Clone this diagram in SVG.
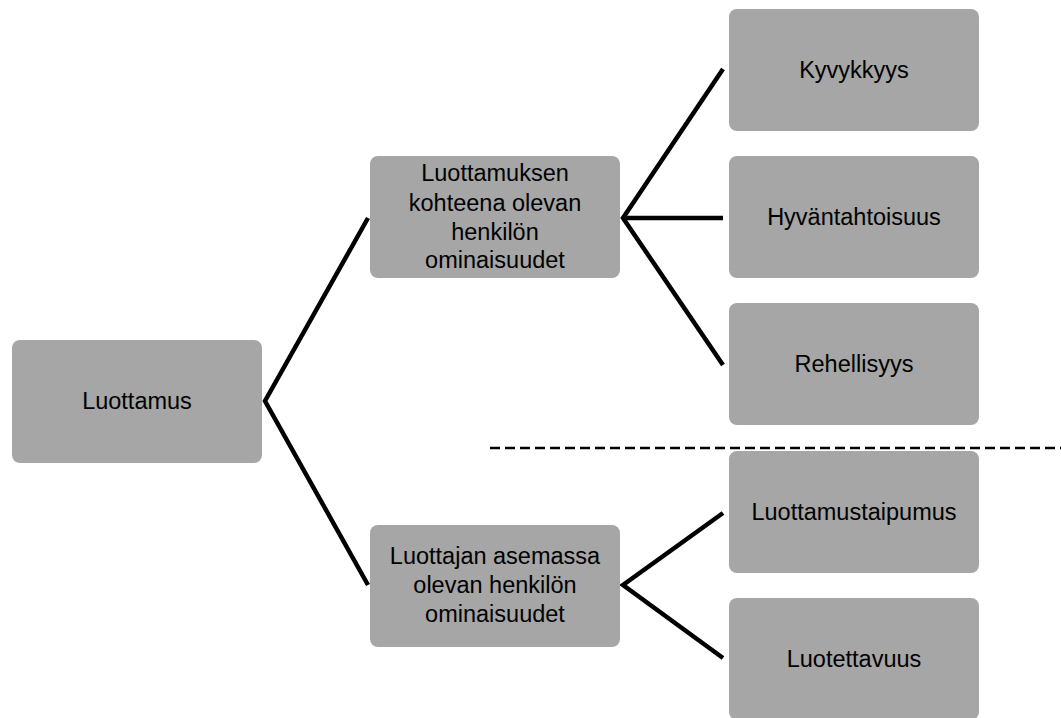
<svg xmlns="http://www.w3.org/2000/svg" width="1061" height="718" viewBox="0 0 1061 718">
<style>
.box{fill:#a6a6a6;}
.t{font-family:"Liberation Sans",Arial,sans-serif;font-size:23.5px;fill:#000;text-anchor:middle;}
.c{stroke:#000;stroke-width:4.5;fill:none;}
.d{stroke:#000;stroke-width:2.5;stroke-dasharray:10 5;fill:none;}
</style>
<rect width="1061" height="718" fill="#fff"/>
<g id="connectors">
<polyline class="c" points="368,218 265,401 368,585"/>
<polyline class="c" points="723,69 623,218 723,365"/>
<line class="c" x1="623" y1="218" x2="723" y2="218"/>
<polyline class="c" points="723,513 623,585 723,658"/>
<line class="d" x1="490" y1="448" x2="1061" y2="448"/>
</g>
<g id="n-luottamus"><rect class="box" x="12" y="340" width="250" height="123" rx="8"/><text class="t" x="137" y="409">Luottamus</text></g>
<g id="n-kohde"><rect class="box" x="370" y="156" width="250" height="122" rx="8"/><text class="t" x="495" y="181">Luottamuksen</text><text class="t" x="495" y="211">kohteena olevan</text><text class="t" x="495" y="240">henkilön</text><text class="t" x="495" y="268">ominaisuudet</text></g>
<g id="n-luottaja"><rect class="box" x="370" y="525" width="250" height="122" rx="8"/><text class="t" x="495" y="564">Luottajan asemassa</text><text class="t" x="495" y="593">olevan henkilön</text><text class="t" x="495" y="622">ominaisuudet</text></g>
<g id="n-kyvykkyys"><rect class="box" x="729" y="9" width="250" height="122" rx="8"/><text class="t" x="854" y="78">Kyvykkyys</text></g>
<g id="n-hyvantahtoisuus"><rect class="box" x="729" y="156" width="250" height="122" rx="8"/><text class="t" x="854" y="225">Hyväntahtoisuus</text></g>
<g id="n-rehellisyys"><rect class="box" x="729" y="303" width="250" height="122" rx="8"/><text class="t" x="854" y="372">Rehellisyys</text></g>
<g id="n-taipumus"><rect class="box" x="729" y="451" width="250" height="122" rx="8"/><text class="t" x="854" y="520">Luottamustaipumus</text></g>
<g id="n-luotettavuus"><rect class="box" x="729" y="598" width="250" height="122" rx="8"/><text class="t" x="854" y="667">Luotettavuus</text></g>
</svg>
